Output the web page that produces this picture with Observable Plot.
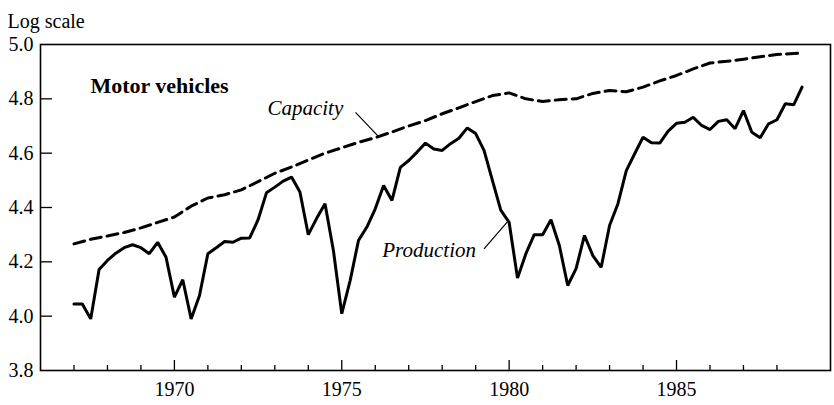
<!DOCTYPE html>
<html>
<head>
<meta charset="utf-8">
<script src="https://cdn.jsdelivr.net/npm/d3@7"></script>
<script src="https://cdn.jsdelivr.net/npm/@observablehq/plot@0.6"></script>
<style>
  html, body { margin: 0; padding: 0; background: #fff; }
</style>
</head>
<body>
<div id="chart"></div>
<script>
// Quarterly production index (log scale), 1967Q1 - 1988Q4
const prodStart = 1967;
const production = [
  4.045, 4.045, 3.99, 4.172, 4.205, 4.232, 4.252, 4.263, 4.252, 4.23, 4.272, 4.217,
  4.07, 4.134, 3.99, 4.076, 4.23, 4.252, 4.275, 4.272, 4.287, 4.288, 4.355, 4.454,
  4.475, 4.497, 4.512, 4.457, 4.30, 4.36, 4.414, 4.242, 4.009, 4.131, 4.279, 4.328,
  4.395, 4.481, 4.426, 4.548, 4.573, 4.604, 4.637, 4.615, 4.61, 4.635, 4.655, 4.693,
  4.672, 4.61, 4.50, 4.39, 4.345, 4.14, 4.23, 4.30, 4.30, 4.355, 4.26, 4.113,
  4.175, 4.297, 4.223, 4.18, 4.334, 4.414, 4.536, 4.598, 4.659, 4.638, 4.637, 4.681,
  4.71, 4.714, 4.732, 4.702, 4.687, 4.717, 4.723, 4.69, 4.757, 4.677, 4.657, 4.708,
  4.723, 4.782, 4.778, 4.843
];

// Capacity (log scale), read at half-year points
const capacityDates = [
  1967.0, 1967.5, 1968.0, 1968.5, 1969.0, 1969.5, 1970.0, 1970.5, 1971.0, 1971.5,
  1972.0, 1972.5, 1973.0, 1973.5, 1974.0, 1974.5, 1975.0, 1975.5, 1976.0, 1976.5,
  1977.0, 1977.5, 1978.0, 1978.5, 1979.0, 1979.5, 1980.0, 1980.5, 1981.0, 1981.5,
  1982.0, 1982.5, 1983.0, 1983.5, 1984.0, 1984.5, 1985.0, 1985.5, 1986.0, 1986.5,
  1987.0, 1987.5, 1988.0, 1988.5, 1988.75
];
const capacity = [
  4.266, 4.283, 4.295, 4.308, 4.325, 4.345, 4.365, 4.405, 4.435, 4.447,
  4.465, 4.495, 4.526, 4.549, 4.575, 4.60, 4.62, 4.64, 4.657, 4.678,
  4.70, 4.72, 4.745, 4.767, 4.79, 4.812, 4.822, 4.80, 4.79, 4.797,
  4.80, 4.82, 4.831, 4.826, 4.843, 4.866, 4.886, 4.91, 4.932, 4.938,
  4.946, 4.955, 4.963, 4.967, 4.968
];

const yTicks = [3.8, 4.0, 4.2, 4.4, 4.6, 4.8, 5.0];
const yInnerTicks = [4.0, 4.2, 4.4, 4.6, 4.8];
const xMajorTicks = [1970, 1975, 1980, 1985];
const xMinorTicks = [1967, 1968, 1969, 1971, 1972, 1973, 1974, 1976, 1977, 1978, 1979,
                     1981, 1982, 1983, 1984, 1986, 1987, 1988];

// Annotations
const labels = [
  {text: "Motor vehicles", x: 1967.49, y: 4.846, bold: true},
  {text: "Capacity", x: 1972.78, y: 4.767, bold: false},
  {text: "Production", x: 1976.21, y: 4.244, bold: false}
];
const leaders = [
  {x1: 1975.41, y1: 4.750, x2: 1976.10, y2: 4.661},
  {x1: 1979.25, y1: 4.248, x2: 1979.94, y2: 4.346}
];

const prodData = production.map((v, i) => ({date: prodStart + i / 4, value: v}));
const capData = capacity.map((v, i) => ({date: capacityDates[i], value: v}));

const W = 834, H = 405;
const mL = 40, mR = 4, mT = 44, mB = 35;
const plotW = W - mL - mR, plotH = H - mT - mB;

const chart = Plot.plot({
  width: W,
  height: H,
  marginLeft: mL,
  marginRight: mR,
  marginTop: mT,
  marginBottom: mB,
  style: {fontFamily: "Liberation Serif", fontSize: "20px", color: "#000", background: "#fff"},
  x: {domain: [1966, 1989.6], label: null},
  y: {domain: [3.8, 5.0], label: null},
  marks: [
    Plot.frame({stroke: "#000", strokeWidth: 1.6}),
    Plot.tickX(xMinorTicks, {x: d => d, insetTop: plotH - 5, strokeWidth: 1.3}),
    Plot.tickX(xMajorTicks, {x: d => d, insetTop: plotH - 10, strokeWidth: 1.3}),
    Plot.tickY(yInnerTicks, {y: d => d, insetRight: plotW - 12, strokeWidth: 1.3}),
    Plot.axisX({ticks: xMajorTicks, tickSize: 0, tickPadding: 11, tickFormat: d => String(d), fontSize: 20}),
    Plot.axisY({ticks: yTicks, tickSize: 0, tickPadding: 7, tickFormat: d3.format(".1f"), fontSize: 20}),
    Plot.line(capData, {x: "date", y: "value", stroke: "#000", strokeWidth: 3, strokeDasharray: "11,6"}),
    Plot.line(prodData, {x: "date", y: "value", stroke: "#000", strokeWidth: 3, strokeLinejoin: "miter"}),
    Plot.link(leaders, {x1: "x1", y1: "y1", x2: "x2", y2: "y2", stroke: "#000", strokeWidth: 1.2}),
    Plot.text(labels.filter(d => d.bold), {x: "x", y: "y", text: "text", textAnchor: "start", fontWeight: "bold", fontSize: 22, fill: "#000"}),
    Plot.text(labels.filter(d => !d.bold), {x: "x", y: "y", text: "text", textAnchor: "start", fontStyle: "italic", fontSize: 21, fill: "#000"}),
    Plot.text(["Log scale"], {frameAnchor: "top-left", dx: -33, dy: -31, textAnchor: "start", fontSize: 20, fill: "#000"})
  ]
});
document.getElementById("chart").appendChild(chart);
</script>
</body>
</html>
